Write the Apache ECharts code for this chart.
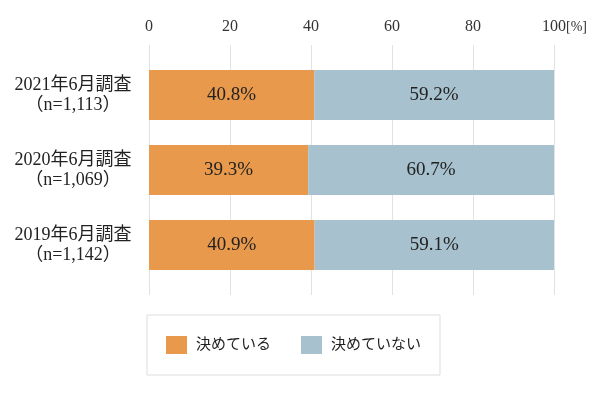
<!DOCTYPE html>
<html>
<head>
<meta charset="utf-8">
<script src="https://cdn.jsdelivr.net/npm/echarts@6/dist/echarts.min.js"></script>
<style>html,body{margin:0;padding:0;background:#fff;}#chart{width:600px;height:395px;}</style>
</head>
<body>
<div id="chart"></div>
<script>
const categories = ['2021年6月調査\n（n=1,113）', '2020年6月調査\n（n=1,069）', '2019年6月調査\n（n=1,142）'];
const seriesNames = ['決めている', '決めていない'];
const decided = [40.8, 39.3, 40.9];
const notDecided = [59.2, 60.7, 59.1];
const tickLabels = ['0', '20', '40', '60', '80', '100'];
const unitLabel = '[%]';

const FONT = "'Liberation Serif', 'DejaVu Serif', 'Noto Sans CJK JP', serif";
const chart = echarts.init(document.getElementById('chart'), null, {renderer: 'canvas'});
chart.setOption({
  animation: false,
  textStyle: {fontFamily: FONT},
  grid: [
    {left: 149, right: 46, top: 45, height: 250},
    {left: 149, right: 46, top: 57.5, height: 225}
  ],
  xAxis: [
    {
      gridIndex: 0, type: 'value', position: 'top', min: 0, max: 100, interval: 20,
      axisLine: {show: false}, axisTick: {show: false},
      axisLabel: {margin: 10, fontSize: 16, color: '#333', fontFamily: FONT,
        formatter: v => {
          const t = tickLabels[Math.round(v / 20)];
          return v === 100 ? '{n|' + t + '}{p|' + unitLabel + '}' : t;
        },
        rich: {
          n: {fontSize: 16, color: '#333', fontFamily: FONT, padding: [0, 0, 0, 21]},
          p: {fontSize: 14, color: '#333', fontFamily: FONT}
        }
      },
      splitLine: {show: true, lineStyle: {color: '#e2e2e2', width: 1}}
    },
    {
      gridIndex: 1, type: 'value', min: 0, max: 100, show: false
    }
  ],
  yAxis: [
    {gridIndex: 0, type: 'category', data: categories, show: false},
    {
      gridIndex: 1, type: 'category', data: categories, inverse: true,
      axisLine: {show: false}, axisTick: {show: false},
      axisLabel: {margin: 76, align: 'center', fontSize: 18, lineHeight: 20, color: '#222', fontFamily: FONT}
    }
  ],
  legend: {
    left: 147, top: 315,
    data: seriesNames,
    orient: 'horizontal',
    itemWidth: 21, itemHeight: 18, itemGap: 30,
    icon: 'rect',
    padding: [21, 19, 21, 19],
    borderColor: '#dddddd', borderWidth: 1,
    textStyle: {fontSize: 15, color: '#222', fontFamily: FONT, padding: [0, 0, 0, 4]}
  },
  series: [
    {
      name: seriesNames[0], type: 'bar', stack: 'total', xAxisIndex: 1, yAxisIndex: 1,
      data: decided, barWidth: 50,
      itemStyle: {color: '#E8994C'},
      label: {show: true, position: 'inside', formatter: p => p.value.toFixed(1) + '%', fontSize: 19, color: '#222', fontFamily: FONT}
    },
    {
      name: seriesNames[1], type: 'bar', stack: 'total', xAxisIndex: 1, yAxisIndex: 1,
      data: notDecided, barWidth: 50,
      itemStyle: {color: '#A8C1CF'},
      label: {show: true, position: 'inside', formatter: p => p.value.toFixed(1) + '%', fontSize: 19, color: '#222', fontFamily: FONT}
    }
  ]
});
</script>
</body>
</html>
